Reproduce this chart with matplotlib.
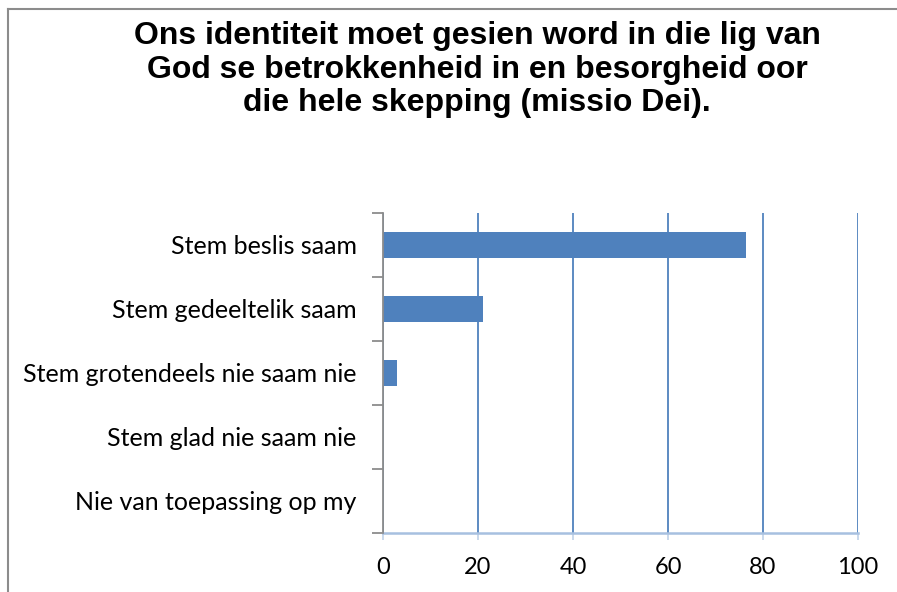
import matplotlib
matplotlib.use("Agg")
import matplotlib.pyplot as plt
from matplotlib.lines import Line2D

categories = ["Stem beslis saam", "Stem gedeeltelik saam", "Stem grotendeels nie saam nie",
              "Stem glad nie saam nie", "Nie van toepassing op my"]
values = [76.4, 21.0, 3.0, 0.0, 0.0]
xticks = [0, 20, 40, 60, 80, 100]
title = "Ons identiteit moet gesien word in die lig van\nGod se betrokkenheid in en besorgheid oor\ndie hele skepping (missio Dei)."

W, H = 897, 592
fig = plt.figure(figsize=(W / 100, H / 100), dpi=100)
fig.patch.set_facecolor("white")

# outer border (top and left visible)
fig.add_artist(Line2D([8 / W, 1.0], [1 - 9 / H, 1 - 9 / H], color="#8c8c8c", lw=1.5))
fig.add_artist(Line2D([8 / W, 8 / W], [0, 1 - 9 / H], color="#8c8c8c", lw=1.5))

left, right, top, bottom = 383, 858, 213, 533
ax = fig.add_axes([left / W, 1 - bottom / H, (right - left) / W, (bottom - top) / H])

bar_color = "#4F81BD"
n = len(categories)
ypos = list(range(n))
ax.barh(ypos, values, height=0.4, color=bar_color, zorder=3)
ax.set_ylim(n - 0.5, -0.5)
ax.set_xlim(0, 100)

ax.set_xticks(xticks)
ax.set_xticklabels([str(t) for t in xticks])
ax.set_yticks(ypos)
ax.set_yticklabels(categories)
ax.set_yticks([i - 0.5 for i in range(n + 1)], minor=True)

ax.grid(axis="x", color=bar_color, lw=1.3, zorder=1)
ax.set_axisbelow(True)

for s in ["top", "right"]:
    ax.spines[s].set_visible(False)
ax.spines["left"].set_color("#8c8c8c")
ax.spines["left"].set_linewidth(1.3)
ax.spines["left"].set_zorder(4)
ax.spines["bottom"].set_color("#a7c0e0")
ax.spines["bottom"].set_linewidth(1.8)

ax.tick_params(axis="y", which="major", length=0, pad=19, labelsize=18)
ax.tick_params(axis="y", which="minor", length=8, width=1.3, color="#8c8c8c", direction="out")
ax.tick_params(axis="x", which="major", length=5, width=1.3, color="#c5d5ea", direction="out",
               pad=12, labelsize=17)

for lab in ax.get_yticklabels() + ax.get_xticklabels():
    lab.set_fontfamily("Lato")
    lab.set_color("black")

fig.text(0.532, 1 - 21 / H, title, ha="center", va="top", fontsize=23,
         fontweight="bold", family="Liberation Sans", linespacing=1.16)

fig.savefig("out.png", dpi=100, facecolor="white")
